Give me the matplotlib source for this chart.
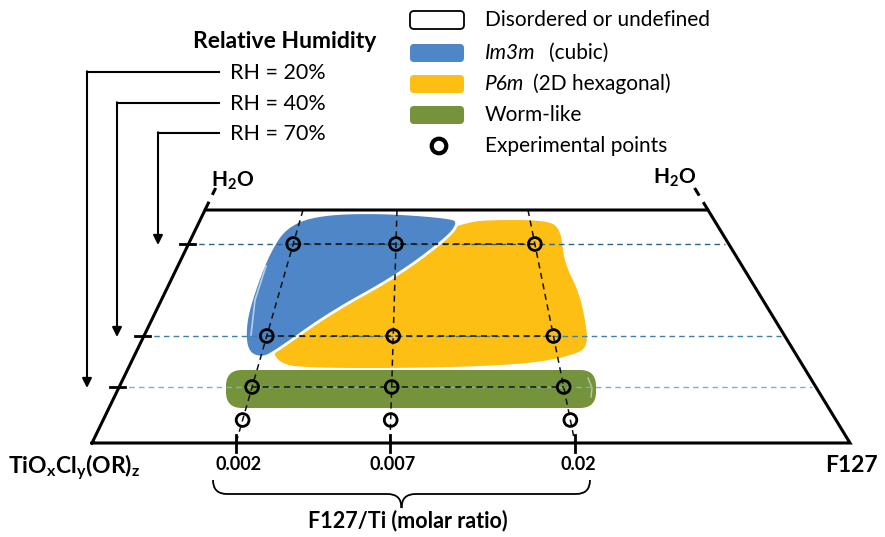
import numpy as np
import matplotlib.pyplot as plt
from matplotlib.patches import Polygon, FancyBboxPatch, PathPatch
from matplotlib.path import Path

plt.rcParams['font.family'] = ['Lato', 'DejaVu Sans']
plt.rcParams['mathtext.fontset'] = 'custom'
plt.rcParams['mathtext.rm'] = 'Lato:bold'
plt.rcParams['mathtext.default'] = 'rm'

# -----------------------------
# DATA
# -----------------------------
ratios = ["0.002", "0.007", "0.02"]          # F127/Ti molar ratio columns
rh_levels = [20, 40, 70]                      # relative humidity rows (%)
rh_labels = ["RH = 20%", "RH = 40%", "RH = 70%"]
# phase found at each experimental point (rows: RH 70, 40, 20, lowest row)
phase_rows = {
    70: ["Im3m", "Im3m", "P6m"],
    40: ["Im3m", "P6m", "P6m"],
    20: ["Worm", "Worm", "Worm"],
    0: ["Disordered", "Disordered", "Disordered"],
}
legend_labels = ["Disordered or undefined", "Im3m", "P6m", "Worm-like",
                 "Experimental points"]
legend_extra = ["", "(cubic)", "(2D hexagonal)", "", ""]

# -----------------------------
# LAYOUT (pixel space)
# -----------------------------
W, H = 885, 537
Y_TOP, Y_BOT = 210, 443
TRAP_TOP = (205, 708)
TRAP_BOT = (92, 850)
COL_TOP = [303, 397, 528]
COL_BOT = [236, 390, 575]
ROW_Y = {70: 244, 40: 336, 20: 387, 0: 420}
ARROW_X = {20: 87, 40: 117, 70: 158}
LABEL_Y = {20: 72, 40: 103, 70: 133}
LINE_COL = {70: '#2f6489', 40: '#3d7fb0', 20: '#6fb6d6'}

C_BLUE = '#4e86c8'
C_YEL = '#fdbf14'
C_GRN = '#74933a'


def lerp_x(xt, xb, y):
    f = (y - Y_TOP) / (Y_BOT - Y_TOP)
    return xt + f * (xb - xt)


def chaikin(pts, n=4):
    pts = np.asarray(pts, float)
    for _ in range(n):
        q = 0.75 * pts + 0.25 * np.roll(pts, -1, axis=0)
        r = 0.25 * pts + 0.75 * np.roll(pts, -1, axis=0)
        pts = np.empty((2 * len(q), 2))
        pts[0::2] = q
        pts[1::2] = r
    return pts


fig = plt.figure(figsize=(W / 100, H / 100), dpi=100)
ax = fig.add_axes([0, 0, 1, 1])
ax.set_xlim(0, W)
ax.set_ylim(H, 0)
ax.axis('off')

# -----------------------------
# PHASE REGIONS
# -----------------------------
blue_outline = [(286, 226), (318, 214), (380, 212), (450, 217), (459, 222),
                (449, 237), (397, 276), (330, 313), (278, 350), (262, 359),
                (246, 352), (245, 322), (255, 288), (269, 252)]
yellow_outline = [(463, 224), (482, 220), (548, 220), (561, 230), (564, 262),
                  (578, 290), (585, 318), (588, 344), (578, 354), (530, 364),
                  (430, 368), (300, 368), (278, 362), (272, 348), (318, 306),
                  (390, 266), (440, 232)]
ax.add_patch(Polygon(chaikin(yellow_outline), closed=True, fc=C_YEL, ec='none', zorder=2))
ax.add_patch(Polygon(chaikin(blue_outline), closed=True, fc=C_BLUE, ec='white', lw=2.0, zorder=3))
ax.add_patch(FancyBboxPatch((226, 370), 370, 38, boxstyle='round,pad=0,rounding_size=16',
                            fc=C_GRN, ec='none', zorder=2))
# glossy highlights
ax.plot([251, 255, 266], [335, 300, 266], color='white', lw=1.2, alpha=0.6, zorder=3)
ax.plot([588, 592, 591], [378, 388, 397], color='white', lw=1.0, alpha=0.5, zorder=3)

# -----------------------------
# TRAPEZOID FRAME
# -----------------------------
ax.plot([TRAP_BOT[0], TRAP_TOP[0], TRAP_TOP[1], TRAP_BOT[1], TRAP_BOT[0]],
        [Y_BOT, Y_TOP, Y_TOP, Y_BOT, Y_BOT], color='k', lw=2.2, zorder=6,
        solid_joinstyle='miter')
# dashed extensions to the water apex
for xt, xb in [(TRAP_TOP[0], TRAP_BOT[0]), (TRAP_TOP[1], TRAP_BOT[1])]:
    ax.plot([xt, lerp_x(xt, xb, 188)], [Y_TOP, 188], color='k', lw=2.2,
            ls=(0, (3, 2.5)), zorder=6)
ax.text(233, 181, 'H$_2$O', ha='center', va='center', fontsize=15, fontweight='bold')
ax.text(675, 178, 'H$_2$O', ha='center', va='center', fontsize=15, fontweight='bold')

# -----------------------------
# RH ROWS
# -----------------------------
for rh in rh_levels:
    y = ROW_Y[rh]
    xl = lerp_x(TRAP_TOP[0], TRAP_BOT[0], y)
    xr = lerp_x(TRAP_TOP[1], TRAP_BOT[1], y)
    ax.plot([xl, xr - 4], [y, y], color=LINE_COL[rh], lw=1.0, ls=(0, (4, 3)), zorder=4)
    ax.plot([xl - 9, xl + 6], [y, y], color='k', lw=2.0, zorder=6)
    xs = [lerp_x(COL_TOP[i], COL_BOT[i], y) for i in range(len(ratios))]
    ax.plot([xs[0], xs[-1]], [y, y], color='#111111', lw=1.1, ls=(0, (4, 3)), zorder=5)

# -----------------------------
# RATIO COLUMNS
# -----------------------------
for i, lab in enumerate(ratios):
    ax.plot([COL_TOP[i], COL_BOT[i]], [Y_TOP, Y_BOT], color='#111111', lw=1.1,
            ls=(0, (4, 3)), zorder=5)
    ax.plot([COL_BOT[i], COL_BOT[i]], [435, 452], color='k', lw=2.0, zorder=6)
    ax.text(COL_BOT[i] + 3, 465, lab, ha='center', va='center', fontsize=13,
            fontweight='bold')

# experimental points
for rh, phs in phase_rows.items():
    y = ROW_Y[rh]
    xs = [lerp_x(COL_TOP[i], COL_BOT[i], y) for i in range(len(phs))]
    ax.scatter(xs, [y] * len(xs), s=85, facecolors='none', edgecolors='k',
               linewidths=2.0, zorder=7)

# -----------------------------
# RH ARROWS + LABELS
# -----------------------------
ax.text(285, 42, 'Relative Humidity', ha='center', va='center', fontsize=16.5,
        fontweight='bold')
for rh, lab in zip(rh_levels, rh_labels):
    ly = LABEL_Y[rh]
    x0 = ARROW_X[rh]
    ax.plot([219, x0], [ly, ly], color='k', lw=1.5, zorder=6)
    ax.annotate('', xy=(x0, ROW_Y[rh] + 1), xytext=(x0, ly - 0.7),
                arrowprops=dict(arrowstyle='-|>', color='k', lw=1.5,
                                mutation_scale=14, shrinkA=0, shrinkB=0))
    ax.text(230, ly + 1, lab, ha='left', va='center', fontsize=15.5)

# -----------------------------
# AXIS LABELS
# -----------------------------
ax.text(8, 467, 'TiO$_x$Cl$_y$(OR)$_z$', ha='left', va='center', fontsize=16.5,
        fontweight='bold')
ax.text(878, 466, 'F127', ha='right', va='center', fontsize=16.5, fontweight='bold')
ax.text(408, 521, 'F127/Ti (molar ratio)', ha='center', va='center', fontsize=15.5,
        fontweight='bold')

# curly brace under the ratio ticks
bx0, bx1, by0, by1, tip = 213, 590, 480, 494, 508
bm = (bx0 + bx1) / 2
verts = [(bx0, by0), (bx0, by1), (bx0 + 14, by1),
         (bm - 14, by1), (bm, by1), (bm, tip),
         (bm, by1), (bm + 14, by1),
         (bx1 - 14, by1), (bx1, by1), (bx1, by0)]
codes = [Path.MOVETO, Path.CURVE3, Path.CURVE3,
         Path.LINETO, Path.CURVE3, Path.CURVE3,
         Path.CURVE3, Path.CURVE3,
         Path.LINETO, Path.CURVE3, Path.CURVE3]
ax.add_patch(PathPatch(Path(verts, codes), fc='none', ec='k', lw=1.3))

# -----------------------------
# LEGEND
# -----------------------------
leg_y = [20, 53, 84, 115, 146]
leg_fc = ['white', C_BLUE, C_YEL, C_GRN]
leg_gap = [0, 13, 9, 0, 0]
renderer = fig.canvas.get_renderer()
for k, lab in enumerate(legend_labels):
    y = leg_y[k]
    if k < 4:
        ax.add_patch(FancyBboxPatch((410, y - 9), 54, 18,
                                    boxstyle='round,pad=0,rounding_size=4',
                                    fc=leg_fc[k], ec='k' if k == 0 else 'none',
                                    lw=1.3))
    else:
        ax.scatter([439], [y], s=110, facecolors='none', edgecolors='k',
                   linewidths=3)
    style = 'italic' if k in (1, 2) else 'normal'
    t = ax.text(485, y, lab, ha='left', va='center', fontsize=15, fontstyle=style)
    if legend_extra[k]:
        bb = t.get_window_extent(renderer=renderer)
        x_end = ax.transData.inverted().transform((bb.x1, bb.y0))[0]
        ax.text(x_end + leg_gap[k], y, legend_extra[k], ha='left',
                va='center', fontsize=15)

fig.savefig('out.png', dpi=100)
